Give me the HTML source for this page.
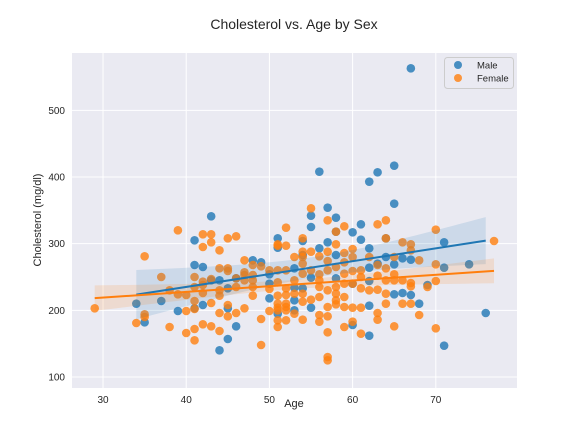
<!DOCTYPE html>
<html><head><meta charset="utf-8"><style>
body{margin:0;background:#fff;font-family:"Liberation Sans",sans-serif}
</style></head><body>
<svg id="c" width="576" height="432" xmlns="http://www.w3.org/2000/svg"></svg>
<script>
const maleAge=[34,35,37,39,41,41,41,42,42,43,43,44,44,45,45,45,46,46,48,49,50,50,50,51,51,51,53,53,53,53,54,54,54,55,55,55,55,56,56,57,57,58,58,58,58,60,60,60,61,61,62,62,62,62,62,62,63,63,64,64,65,65,65,65,66,66,67,67,67,68,69,71,71,71,74,76];
const maleChol=[210,182,214,199,305,268,203,265,208,341,245,245,140,233,203,157,248,176,275,272,254,240,218,308,294,195,263,234,215,200,304,283,233,342,325,249,204,408,293,354,302,339,318,283,248,317,240,178,329,306,393,293,264,244,207,162,407,270,308,280,417,360,269,224,278,226,276,223,563,210,238,302,264,147,269,196];
const femAge=[29,34,35,35,35,37,38,38,39,39,40,40,40,41,41,41,41,41,41,42,42,42,42,42,42,43,43,43,43,43,44,44,44,44,44,44,45,45,45,45,45,46,46,46,46,47,47,47,47,47,48,48,48,48,48,49,49,49,50,50,50,51,51,51,51,51,51,51,51,51,51,52,52,52,52,52,52,52,52,52,53,53,53,53,54,54,54,54,54,54,54,54,55,55,55,55,56,56,56,56,56,56,56,57,57,57,57,57,57,57,57,57,57,58,58,58,58,58,58,58,59,59,59,59,59,59,59,59,60,60,60,60,60,60,61,61,61,61,61,62,62,63,63,63,63,63,63,64,64,64,64,64,64,65,65,65,65,66,66,66,67,67,67,67,67,68,68,69,70,70,70,70,77];
const femChol=[203,181,194,190,281,250,230,175,320,224,223,199,166,250,235,202,214,172,155,314,295,243,238,226,179,314,302,247,211,176,290,263,230,222,196,169,308,263,259,208,191,311,248,235,196,275,257,253,245,203,268,253,245,235,222,266,187,148,260,232,199,299,297,260,242,222,210,204,200,185,175,324,297,260,233,223,210,205,200,185,280,245,225,195,308,288,280,270,255,225,213,186,353,288,260,216,281,254,245,235,220,193,183,335,288,274,260,230,205,191,167,130,125,318,299,265,235,225,215,209,326,286,272,255,240,220,205,175,292,280,259,240,204,183,260,250,233,204,165,280,230,329,268,252,231,196,186,335,308,263,245,225,210,280,254,245,176,302,245,210,299,290,241,236,210,275,193,235,321,269,244,173,304];
const xTicks=[30,40,50,60,70];
const yTicks=[100,200,300,400,500];
const L=72,R=517,T=53,B=388,x0=26.27,x1=79.76,y0=83.5,y1=586;
const X=v=>L+(v-x0)/(x1-x0)*(R-L);
const Y=v=>B-(v-y0)/(y1-y0)*(B-T);
const svg=document.getElementById('c');const NS='http://www.w3.org/2000/svg';
function mk(t,a,p){const e=document.createElementNS(NS,t);for(const k in a)e.setAttribute(k,a[k]);(p||svg).appendChild(e);return e;}
const bg=mk('rect',{x:L,y:T,width:R-L,height:B-T,fill:'#eaeaf2'});


xTicks.forEach(t=>{mk('line',{x1:X(t),x2:X(t),y1:T,y2:B,stroke:'#fff','stroke-width':1});
 const tx=mk('text',{x:X(t),y:B+15,'font-size':10,'text-anchor':'middle',fill:'#262626'});tx.textContent=t;
 
 });
yTicks.forEach(t=>{mk('line',{x1:L,x2:R,y1:Y(t),y2:Y(t),stroke:'#fff','stroke-width':1});
 const tx=mk('text',{x:L-7,y:Y(t)+3.5,'font-size':10,'text-anchor':'end',fill:'#262626'});tx.textContent=t;
 
 });
function fit(xs,ys,col,name){
 const n=xs.length,mx=xs.reduce((a,b)=>a+b)/n,my=ys.reduce((a,b)=>a+b)/n;
 let sxx=0,sxy=0;xs.forEach((x,i)=>{sxx+=(x-mx)**2;sxy+=(x-mx)*(ys[i]-my)});
 const b=sxy/sxx,a=my-b*mx;let sse=0;xs.forEach((x,i)=>{sse+=(ys[i]-a-b*x)**2});
 const s=Math.sqrt(sse/(n-2));const lo=Math.min(...xs),hi=Math.max(...xs);
 const up=[],dn=[];for(let k=0;k<=40;k++){const x=lo+(hi-lo)*k/40,yh=a+b*x,se=1.97*s*Math.sqrt(1/n+(x-mx)**2/sxx);
  up.push(X(x)+','+Y(yh+se));dn.unshift(X(x)+','+Y(yh-se));}
 const band=mk('polygon',{points:up.concat(dn).join(' '),fill:col,'fill-opacity':0.15});
 
 
 return {a,b,lo,hi};
}
function scatter(xs,ys,col,name){xs.forEach((x,i)=>{const c=mk('circle',{cx:X(x),cy:Y(ys[i]),r:4.3,fill:col,'fill-opacity':0.8});
 
 });}
function line(f,col,name){const l=mk('line',{x1:X(f.lo),y1:Y(f.a+f.b*f.lo),x2:X(f.hi),y2:Y(f.a+f.b*f.hi),stroke:col,'stroke-width':2});
 
 }
scatter(maleAge,maleChol,'#1f77b4','male');
scatter(femAge,femChol,'#ff7f0e','female');
const fm=fit(maleAge,maleChol,'#1f77b4','male');
const ff=fit(femAge,femChol,'#ff7f0e','female');
line(fm,'#1f77b4','male');line(ff,'#ff7f0e','female');
const lg=mk('g',{});
mk('rect',{x:444.5,y:57.5,width:69,height:31,rx:3,fill:'#eaeaf2',stroke:'#cccccc'},lg);
mk('circle',{cx:458,cy:65,r:4,fill:'#1f77b4','fill-opacity':0.8},lg);
mk('circle',{cx:458,cy:78,r:4,fill:'#ff7f0e','fill-opacity':0.8},lg);
const t1=mk('text',{x:477,y:68.5,'font-size':9.5,fill:'#262626'},lg);t1.textContent='Male';

const t2=mk('text',{x:477,y:81.5,'font-size':9.5,fill:'#262626'},lg);t2.textContent='Female';

const ti=mk('text',{x:294,y:29,'font-size':14,'text-anchor':'middle',fill:'#262626'});ti.textContent='Cholesterol vs. Age by Sex';

const xl=mk('text',{x:294,y:407,'font-size':11,'text-anchor':'middle',fill:'#262626'});xl.textContent='Age';

const yl=mk('text',{x:0,y:0,'font-size':11,'text-anchor':'middle',fill:'#262626',transform:'translate(41,220) rotate(-90)'});yl.textContent='Cholesterol (mg/dl)';

</script>
</body></html>
